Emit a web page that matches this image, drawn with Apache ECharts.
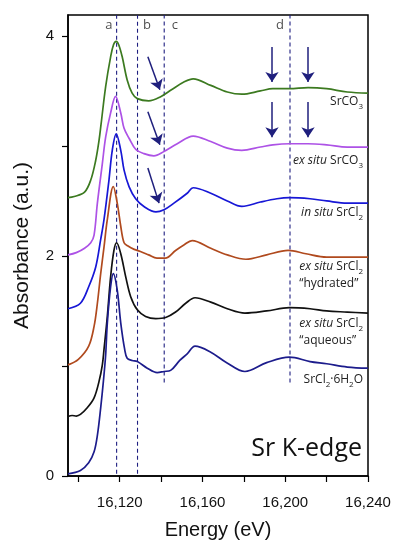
<!DOCTYPE html>
<html><head><meta charset="utf-8">
<script src="https://cdn.jsdelivr.net/npm/echarts@6/dist/echarts.min.js"></script>
<style>html,body{margin:0;padding:0;background:#fff}#c{width:399px;height:550px}</style>
</head><body><div id="c"></div>
<script>
// ---- data ----
const srco3E = [16095,16098,16103,16106,16108.4,16110,16111,16113.2,16115.6,16117,16118.3,16119.5,16121.2,16123.6,16126,16128.5,16134,16140,16145,16151,16155.5,16164,16172,16179,16188,16194,16202,16211,16220,16230,16240];
const srco3V = [2.53,2.54,2.58,2.69,2.87,3.05,3.20,3.54,3.81,3.92,3.95,3.92,3.81,3.60,3.48,3.43,3.41,3.45,3.51,3.58,3.61,3.55,3.49,3.47,3.50,3.52,3.52,3.53,3.52,3.49,3.48];

const exSrco3E = [16095,16099,16103,16106,16107.6,16109.2,16111.6,16113.2,16115.6,16118,16120.5,16122.1,16124.5,16127.7,16131.7,16136.5,16141.4,16147.8,16155.5,16164,16172,16179,16188,16194,16202,16211,16220,16230,16240];
const exSrco3V = [2.01,2.03,2.07,2.12,2.19,2.48,2.84,3.08,3.30,3.45,3.30,3.16,3.07,2.97,2.93,2.91,2.95,3.02,3.09,3.04,2.98,2.96,2.99,3.01,3.02,3.02,3.01,2.99,2.99];

const inSrcl2E = [16095,16101,16105,16108.4,16110.8,16112.4,16114.8,16116.4,16118.3,16120.5,16122.1,16124.5,16127.7,16131.7,16137.5,16141.4,16146.2,16152.6,16155.5,16164,16172,16179,16188,16196,16202,16212,16220,16230,16240];
const inSrcl2V = [1.52,1.57,1.72,1.90,2.15,2.33,2.69,2.96,3.11,2.96,2.78,2.63,2.52,2.45,2.40,2.42,2.48,2.57,2.62,2.57,2.50,2.45,2.49,2.52,2.53,2.52,2.50,2.48,2.48];

const hydE = [16095,16100,16105,16107.6,16109.2,16110.8,16112.4,16114,16116.9,16118.8,16120.5,16122.1,16124,16127,16130,16134,16138,16142,16147,16151,16155,16164,16172,16181,16191,16201.4,16210,16220,16230,16240];
const hydV = [1.01,1.06,1.18,1.36,1.57,1.84,2.08,2.33,2.63,2.48,2.27,2.12,2.09,2.06,2.04,2.01,1.98,1.98,2.05,2.10,2.14,2.07,2.01,1.97,2.01,2.05,2.02,1.99,1.99,1.99];

const aqE = [16095,16097,16099,16101,16104.3,16107.6,16110,16111.6,16112.4,16114,16115.6,16117.2,16118.5,16120.5,16122.9,16125.3,16128.5,16132.5,16137.4,16142.2,16147,16151.9,16156.4,16164,16172,16180.5,16191,16202,16212,16220,16230,16240];
const aqV = [0.54,0.55,0.545,0.56,0.62,0.71,0.86,1.01,1.15,1.45,1.81,2.05,2.12,2.02,1.81,1.63,1.51,1.45,1.43,1.44,1.49,1.57,1.62,1.58,1.52,1.48,1.50,1.53,1.52,1.50,1.49,1.48];

const hexE = [16095,16101,16105,16107.6,16109.2,16110.8,16112.1,16113.2,16114,16115.6,16116.9,16118.8,16120.5,16122.4,16123.6,16126,16128.5,16133.3,16138.1,16141.4,16144.6,16149,16152.6,16156.4,16163.6,16171.7,16180.5,16191,16202,16212,16220,16230,16240];
const hexV = [0.02,0.05,0.12,0.22,0.37,0.62,0.86,1.10,1.39,1.72,1.84,1.69,1.39,1.15,1.07,1.05,1.04,0.98,0.94,0.95,0.96,1.05,1.11,1.18,1.13,1.03,0.95,1.03,1.08,1.04,1.02,0.99,0.98];

// dashed guide lines a-d
const guideE = [16118.5, 16128.6, 16141.5, 16202.3];
const guideBottom = [0.02, 0.02, 0.85, 0.85];
const guideLetters = ['a', 'b', 'c', 'd'];
const letterE = [16114.8, 16133.2, 16146.7, 16197.4];
const letterV = 4.10;

// arrows [fromE, fromV, toE, toV]
const arrowFromE = [16133.6, 16133.6, 16133.6, 16193.6, 16211.0, 16193.6, 16211.0];
const arrowFromV = [3.81, 3.31, 2.80, 3.90, 3.90, 3.40, 3.40];
const arrowToE   = [16139.4, 16139.4, 16139.0, 16193.6, 16211.0, 16193.6, 16211.0];
const arrowToV   = [3.51, 3.01, 2.48, 3.58, 3.58, 3.08, 3.08];

const energyTicks = [16100,16120,16140,16160,16180,16200,16220,16240];
const energyLabels = [16120,16160,16200,16240];
const absTicks = [0,1,2,3,4];
const absLabels = [0,2,4];

const xMin = 16095, xMax = 16240, yMin = 0, yMax = 4.19;

// ---- chart ----
const zip = (e, v) => e.map((x, i) => [x, v[i]]);
const spectra = [
  {name: 'SrCO3', e: srco3E, v: srco3V, color: '#3c7a20'},
  {name: 'ex situ SrCO3', e: exSrco3E, v: exSrco3V, color: '#ad52e6'},
  {name: 'in situ SrCl2', e: inSrcl2E, v: inSrcl2V, color: '#1717d6'},
  {name: 'ex situ SrCl2 hydrated', e: hydE, v: hydV, color: '#b04a1e'},
  {name: 'ex situ SrCl2 aqueous', e: aqE, v: aqV, color: '#111111'},
  {name: 'SrCl2 6H2O', e: hexE, v: hexV, color: '#1c1c8c'}
];

const series = [];
guideE.forEach((e, i) => {
  series.push({
    type: 'line', silent: true, symbol: 'none', animation: false, z: 1,
    data: [[e, guideBottom[i]], [e, yMax]],
    lineStyle: {color: '#1e1e80', width: 1.1, type: [4, 3]}
  });
});
spectra.forEach(s => {
  series.push({
    name: s.name, type: 'line', symbol: 'none', smooth: 0.35, animation: false, z: 3,
    data: zip(s.e, s.v),
    lineStyle: {color: s.color, width: 1.7}
  });
});
series.push({
  type: 'scatter', silent: true, animation: false, symbolSize: 1,
  itemStyle: {color: 'rgba(0,0,0,0)'},
  data: guideLetters.map((l, i) => ({name: l, value: [letterE[i], letterV]})),
  label: {show: true, position: 'inside', formatter: p => p.name, fontSize: 13, color: '#222', fontFamily: 'Open Sans'}
});
series.push({
  type: 'line', silent: true, symbol: 'none', animation: false, data: [], z: 4,
  markLine: {
    silent: true, animation: false, symbol: ['none', 'arrow'], symbolSize: 10,
    label: {show: false},
    lineStyle: {color: '#1f1f7d', width: 1.5, type: 'solid'},
    data: arrowFromE.map((e, i) => [{coord: [e, arrowFromV[i]]}, {coord: [arrowToE[i], arrowToV[i]]}])
  }
});

const lab = {
  n: {fontSize: 12, fontFamily: 'Open Sans', color: '#222', lineHeight: 17},
  i: {fontSize: 12, fontFamily: 'Open Sans', fontStyle: 'italic', color: '#222', lineHeight: 17},
  s: {fontSize: 8, fontFamily: 'Open Sans', color: '#222', lineHeight: 9, verticalAlign: 'bottom'}
};
function txt(text, top) {
  return {type: 'text', right: 399 - 363, top: top, silent: true,
    style: {text: text, rich: lab, align: 'right', fill: '#222'}};
}

const chart = echarts.init(document.getElementById('c'), null, {renderer: 'canvas'});
chart.setOption({
  animation: false,
  backgroundColor: '#fff',
  grid: {left: 68, right: 31, top: 15, bottom: 74, show: true, borderColor: '#000', borderWidth: 1.5, backgroundColor: 'transparent'},
  xAxis: {
    type: 'value', min: xMin, max: xMax,
    name: 'Energy (eV)', nameLocation: 'middle', nameGap: 44,
    nameTextStyle: {fontSize: 20, fontFamily: 'Liberation Sans', color: '#111'},
    axisLine: {lineStyle: {color: '#000', width: 1.5}},
    axisTick: {show: true, inside: false, length: 6, customValues: energyTicks, lineStyle: {color: '#000', width: 1.2}},
    axisLabel: {customValues: energyLabels, margin: 19, fontSize: 15, fontFamily: 'Liberation Sans', color: '#111',
      formatter: v => Number(v).toLocaleString('en-US')},
    splitLine: {show: false}
  },
  yAxis: {
    type: 'value', min: yMin, max: yMax,
    name: 'Absorbance (a.u.)', nameLocation: 'middle', nameGap: 35,
    nameTextStyle: {fontSize: 21, fontFamily: 'Liberation Sans', color: '#111'},
    axisLine: {show: true, lineStyle: {color: '#000', width: 1.5}},
    axisTick: {show: true, inside: false, length: 6, customValues: absTicks, lineStyle: {color: '#000', width: 1.2}},
    axisLabel: {customValues: absLabels, margin: 14, fontSize: 15, fontFamily: 'Liberation Sans', color: '#111'},
    splitLine: {show: false}
  },
  graphic: [
    txt('{n|SrCO}{s|3}', 96),
    txt('{i|ex situ}{n| SrCO}{s|3}', 155),
    txt('{i|in situ}{n| SrCl}{s|2}', 207),
    txt('{i|ex situ}{n| SrCl}{s|2}\n{n|\u201chydrated\u201d}', 261),
    txt('{i|ex situ}{n| SrCl}{s|2}\n{n|\u201caqueous\u201d}', 318),
    txt('{n|SrCl}{s|2}{n|\u00b76H}{s|2}{n|O}', 374),
    {type: 'text', right: 399 - 362, top: 436, silent: true,
      style: {text: 'Sr K-edge', fontSize: 25, fontFamily: 'Open Sans', fill: '#111', align: 'right'}}
  ],
  series: series
});
</script></body></html>
